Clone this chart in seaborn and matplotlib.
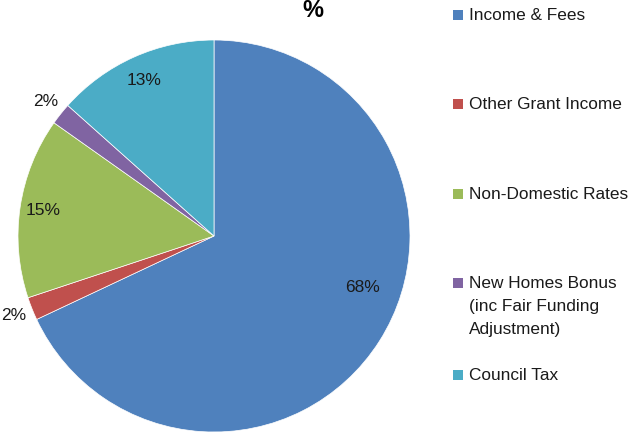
import matplotlib
matplotlib.use("Agg")
import matplotlib.pyplot as plt
import seaborn as sns
import numpy as np
from matplotlib.patches import Rectangle

categories = ["Income & Fees", "Other Grant Income", "Non-Domestic Rates",
              "New Homes Bonus\n(inc Fair Funding\nAdjustment)", "Council Tax"]
values = [68.0, 1.9, 14.9, 1.8, 13.4]
colors = ["#4F81BD", "#C0504D", "#9BBB59", "#8064A2", "#4BACC6"]
title = "%"

sns.set_theme(style="white")
plt.rcParams['font.family'] = ['Liberation Sans', 'DejaVu Sans']

W, H = 631, 432
fig = plt.figure(figsize=(W / 100, H / 100), dpi=100)
ax = fig.add_axes([0, 0, 1, 1])

wedges, texts, autotexts = ax.pie(
    values, colors=colors, startangle=90, counterclock=False,
    autopct='%.0f%%', pctdistance=0.87,
    wedgeprops=dict(linewidth=0.5, edgecolor="white"),
    textprops=dict(fontsize=12.5, color="#1a1a1a"))

# label radii / angle tweaks similar to Excel's best fit
radii = [0.80, 1.10, 0.88, 1.10, 0.87]
for i, (w, t) in enumerate(zip(wedges, autotexts)):
    ang = np.deg2rad((w.theta1 + w.theta2) / 2)
    if i == 0:
        ang = np.deg2rad(-19)
    r = radii[i]
    t.set_position((r * np.cos(ang), r * np.sin(ang)))
    t.set_ha("center"); t.set_va("center")

# map pie so center is at (214,236) px, radius 196 px
cx, cy, R = 214, 236, 196
ax.set_aspect('auto')
ax.set_xlim(-cx / R, (W - cx) / R)
ax.set_ylim(-(H - cy) / R, cy / R)
ax.axis('off')

fig.text(313 / W, 1 - 17 / H, title, ha='center', va='baseline',
         fontsize=17, fontweight='bold', color='black')

# legend
leg_y = [15, 104, 194, 283, 375]
for lab, col, y in zip(categories, colors, leg_y):
    s = 10
    fig.patches.append(Rectangle(((453) / W, 1 - (y + s / 2) / H), s / W, s / H,
                                 transform=fig.transFigure, facecolor=col,
                                 edgecolor='none'))
    fig.text(469 / W, 1 - (y - 7) / H, lab, ha='left', va='top',
             fontsize=12.4, color='#1a1a1a', linespacing=1.66)

fig.savefig("out.png", dpi=100)
